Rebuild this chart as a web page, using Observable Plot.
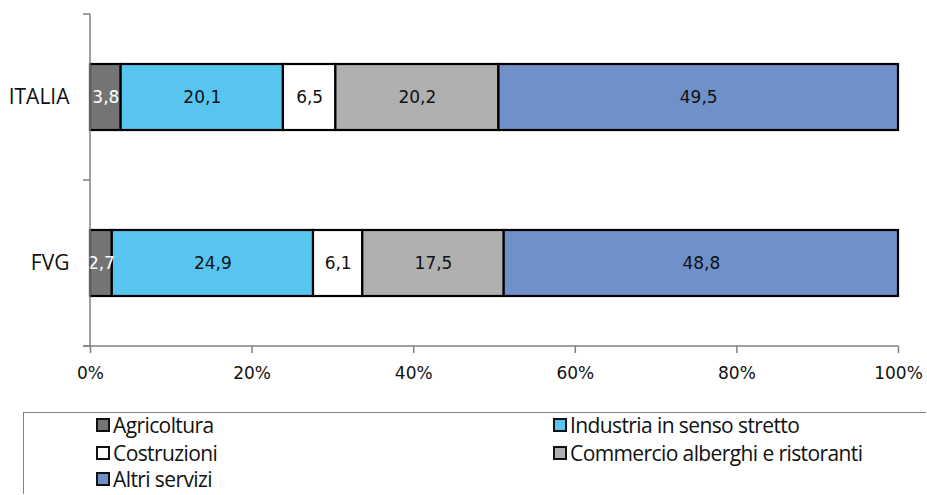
<!DOCTYPE html>
<html>
<head>
<meta charset="utf-8">
<script src="https://cdn.jsdelivr.net/npm/d3@7"></script>
<script src="https://cdn.jsdelivr.net/npm/@observablehq/plot@0.6"></script>
<style>
  html, body { margin: 0; padding: 0; background: #fff; }
  #chart { width: 927px; height: 495px; overflow: hidden; position: relative; }
  #legend {
    position: absolute; left: 23px; top: 412px; width: 902px; height: 81px;
    border-left: 1.5px solid #808080; border-top: 1.5px solid #808080;
    font-family: "Open Sans", sans-serif; font-size: 21px; letter-spacing: -0.6px; color: #111;
  }
  .item { position: absolute; display: flex; align-items: center; line-height: 20px; height: 20px; white-space: nowrap; }
  .sw { width: 10px; height: 10px; border: 2px solid #111; margin-right: 3px; box-sizing: content-box; }
</style>
</head>
<body>
<div id="chart"></div>
<script>
const regions = ["ITALIA", "FVG"];
const sectors = ["Agricoltura", "Industria in senso stretto", "Costruzioni", "Commercio alberghi e ristoranti", "Altri servizi"];
const colors = ["#747474", "#58C5F1", "#FFFFFF", "#B0B0B0", "#7090CA"];
const labelColors = ["#FFFFFF", "#111111", "#111111", "#111111", "#111111"];
const italia = [3.8, 20.1, 6.5, 20.2, 49.5];
const fvg = [2.7, 24.9, 6.1, 17.5, 48.8];
const xTicks = [0, 0.2, 0.4, 0.6, 0.8, 1];

const series = {ITALIA: italia, FVG: fvg};
const data = [];
for (const r of regions) sectors.forEach((s, i) => data.push({region: r, sector: s, value: series[r][i], lc: labelColors[i]}));

const W = 927, H = 400, ML = 90, MR = 29, MT = 14, MB = 54;

const axesMark = (index, scales, values, dims) => {
  const g = d3.create("svg:g").attr("stroke", "#7f7f7f").attr("stroke-width", 1.5);
  const x0 = scales.x(0), x1 = scales.x(1);
  const yTop = dims.marginTop, yBot = dims.height - dims.marginBottom;
  g.append("line").attr("x1", x0).attr("x2", x0).attr("y1", yTop).attr("y2", yBot);
  g.append("line").attr("x1", x0 - 7).attr("x2", x1).attr("y1", yBot).attr("y2", yBot);
  const bw = scales.y.bandwidth ? scales.y.bandwidth() : 0;
  const bounds = regions.map(r => scales.y(r));
  bounds.push(scales.y(regions[regions.length - 1]) + bw);
  for (const b of bounds) g.append("line").attr("x1", x0 - 7).attr("x2", x0).attr("y1", b).attr("y2", b);
  return g.node();
};

const plot = Plot.plot({
  width: W, height: H,
  marginLeft: ML, marginRight: MR, marginTop: MT, marginBottom: MB,
  style: {fontFamily: "DejaVu Sans, sans-serif", fontSize: "17px", color: "#111", background: "#fff"},
  x: {domain: [0, 1]},
  y: {domain: regions, padding: 0},
  color: {domain: sectors, range: colors},
  marks: [
    Plot.barX(data, Plot.stackX({x: "value", y: "region", fill: "sector", order: sectors, offset: "normalize",
      stroke: "#000", strokeWidth: 2.2, insetTop: 50, insetBottom: 50, inset: 0})),
    Plot.text(data, Plot.stackX({x: "value", y: "region", z: "sector", order: sectors, offset: "normalize",
      text: d => d.value.toFixed(1).replace(".", ","), fill: "lc",
      fontFamily: "DejaVu Sans, sans-serif", fontSize: 17})),
    axesMark,
    Plot.axisX({ticks: xTicks, tickSize: 7, tickPadding: 13, stroke: "#7f7f7f", strokeWidth: 1.5,
      tickFormat: d => Math.round(d * 100) + "%", fontSize: 17, fill: "#111", label: null}),
    Plot.axisY({tickSize: 0, tickPadding: 21, fontSize: 21, fontFamily: "Open Sans, sans-serif", fill: "#111", label: null})
  ]
});

const chart = document.getElementById("chart");
chart.appendChild(plot);

const legend = document.createElement("div");
legend.id = "legend";
const pos = [[72, 2], [529, 2], [72, 30], [529, 30], [72, 56]];
sectors.forEach((s, i) => {
  const it = document.createElement("div");
  it.className = "item";
  it.style.left = pos[i][0] + "px";
  it.style.top = pos[i][1] + "px";
  const sw = document.createElement("span");
  sw.className = "sw";
  sw.style.background = colors[i];
  const tx = document.createElement("span");
  tx.textContent = s;
  it.appendChild(sw); it.appendChild(tx);
  legend.appendChild(it);
});
chart.appendChild(legend);
</script>
</body>
</html>
